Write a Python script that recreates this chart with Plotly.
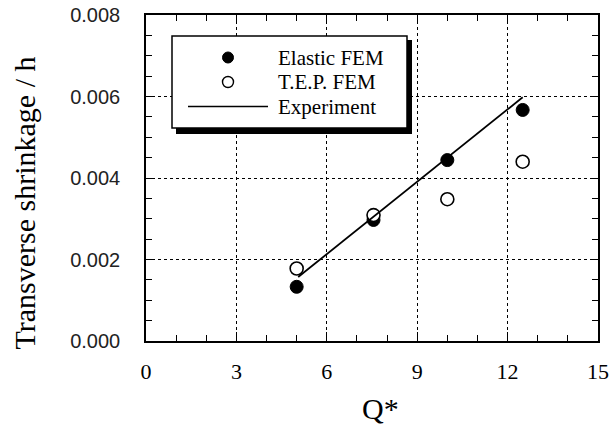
import plotly.graph_objects as go

# Data
q_elastic = [5.0, 7.55, 10.0, 12.5]
s_elastic = [0.00133, 0.00297, 0.00444, 0.00567]
q_tep = [5.0, 7.55, 10.0, 12.5]
s_tep = [0.00178, 0.00309, 0.00348, 0.00440]
q_exp = [5.05, 12.5]
s_exp = [0.00157, 0.00598]

x_ticks = [0, 3, 6, 9, 12, 15]
y_ticks = [0.000, 0.002, 0.004, 0.006, 0.008]
y_ticklabels = ["0.000", "0.002", "0.004", "0.006", "0.008"]

legend_names = ["Elastic FEM", "T.E.P. FEM", "Experiment"]

serif = "Liberation Serif, Times New Roman, serif"
sans = "Liberation Sans, Arial, sans-serif"

# plot area in pixels (for placing the hand-drawn legend)
L, R, T, B = 146, 598, 15, 341
W, H = R - L, B - T
def px(x): return (x - L) / W
def py(y): return (B - y) / H

fig = go.Figure()
fig.add_trace(go.Scatter(x=q_elastic, y=s_elastic, mode="markers", name=legend_names[0],
                         marker=dict(symbol="circle", size=13, color="black",
                                     line=dict(color="black", width=1))))
fig.add_trace(go.Scatter(x=q_tep, y=s_tep, mode="markers", name=legend_names[1],
                         marker=dict(symbol="circle", size=13, color="white",
                                     line=dict(color="black", width=1.6))))
fig.add_trace(go.Scatter(x=q_exp, y=s_exp, mode="lines", name=legend_names[2],
                         line=dict(color="black", width=1.8)))

shapes = []
# legend shadow and box
shapes.append(dict(type="rect", xref="paper", yref="paper",
                   x0=px(176), x1=px(412), y0=py(134), y1=py(40),
                   fillcolor="black", line=dict(width=0), layer="above"))
shapes.append(dict(type="rect", xref="paper", yref="paper",
                   x0=px(172), x1=px(407), y0=py(128), y1=py(36),
                   fillcolor="white", line=dict(color="black", width=1.5), layer="above"))
# legend symbols
row_y = [57.5, 82, 106.5]
r = 5.5
shapes.append(dict(type="circle", xref="paper", yref="paper",
                   x0=px(228 - r), x1=px(228 + r), y0=py(row_y[0] + r), y1=py(row_y[0] - r),
                   fillcolor="black", line=dict(color="black", width=1), layer="above"))
shapes.append(dict(type="circle", xref="paper", yref="paper",
                   x0=px(228 - r), x1=px(228 + r), y0=py(row_y[1] + r), y1=py(row_y[1] - r),
                   fillcolor="white", line=dict(color="black", width=1.4), layer="above"))
shapes.append(dict(type="line", xref="paper", yref="paper",
                   x0=px(188), x1=px(268), y0=py(row_y[2]), y1=py(row_y[2]),
                   line=dict(color="black", width=1.6), layer="above"))

annotations = []
for name, yy in zip(legend_names, row_y):
    annotations.append(dict(text=name, xref="paper", yref="paper", x=px(276), y=py(yy),
                            xanchor="left", yanchor="middle", showarrow=False,
                            font=dict(family=serif, size=21, color="black")))
annotations.append(dict(text="Q*", xref="paper", yref="paper", x=px(380), y=py(409),
                        xanchor="center", yanchor="middle", showarrow=False,
                        font=dict(family=serif, size=30, color="black")))
annotations.append(dict(text="Transverse shrinkage / h", xref="paper", yref="paper",
                        x=px(24), y=py(203.5), textangle=-90,
                        xanchor="center", yanchor="middle", showarrow=False,
                        font=dict(family=serif, size=30, color="black")))

fig.update_layout(
    width=609, height=425,
    margin=dict(l=L, r=609 - R, t=T, b=425 - B, autoexpand=False),
    paper_bgcolor="white", plot_bgcolor="white",
    font=dict(family=serif, color="black"),
    showlegend=False,
    shapes=shapes, annotations=annotations,
    xaxis=dict(range=[0, 15], tickvals=x_ticks, ticktext=[str(v) for v in x_ticks],
               showgrid=True, gridcolor="black", griddash="dot", gridwidth=1,
               zeroline=False, showline=True, linecolor="black", linewidth=1.5,
               mirror="ticks", ticks="inside", ticklen=9, tickwidth=1.2, tickcolor="black",
               minor=dict(dtick=1, ticks="inside", ticklen=6, tickwidth=1.2, tickcolor="black", showgrid=False),
               tickfont=dict(family=serif, size=22, color="black"),
               ticklabelstandoff=10, automargin=False),
    yaxis=dict(range=[0, 0.008], tickvals=y_ticks, ticktext=y_ticklabels,
               showgrid=True, gridcolor="black", griddash="dot", gridwidth=1,
               zeroline=False, showline=True, linecolor="black", linewidth=1.5,
               mirror="ticks", ticks="inside", ticklen=8, tickwidth=1.2, tickcolor="black",
               minor=dict(dtick=0.0005, ticks="inside", ticklen=6, tickwidth=1.2, tickcolor="black", showgrid=False),
               tickfont=dict(family=sans, size=20, color="#222"),
               ticklabelstandoff=20, automargin=False),
)

fig.write_html(
    "out.html",
    config={"displayModeBar": False},
    post_script="document.body.style.margin='0';document.body.style.padding='0';"
                "document.documentElement.style.overflow='hidden';",
)
